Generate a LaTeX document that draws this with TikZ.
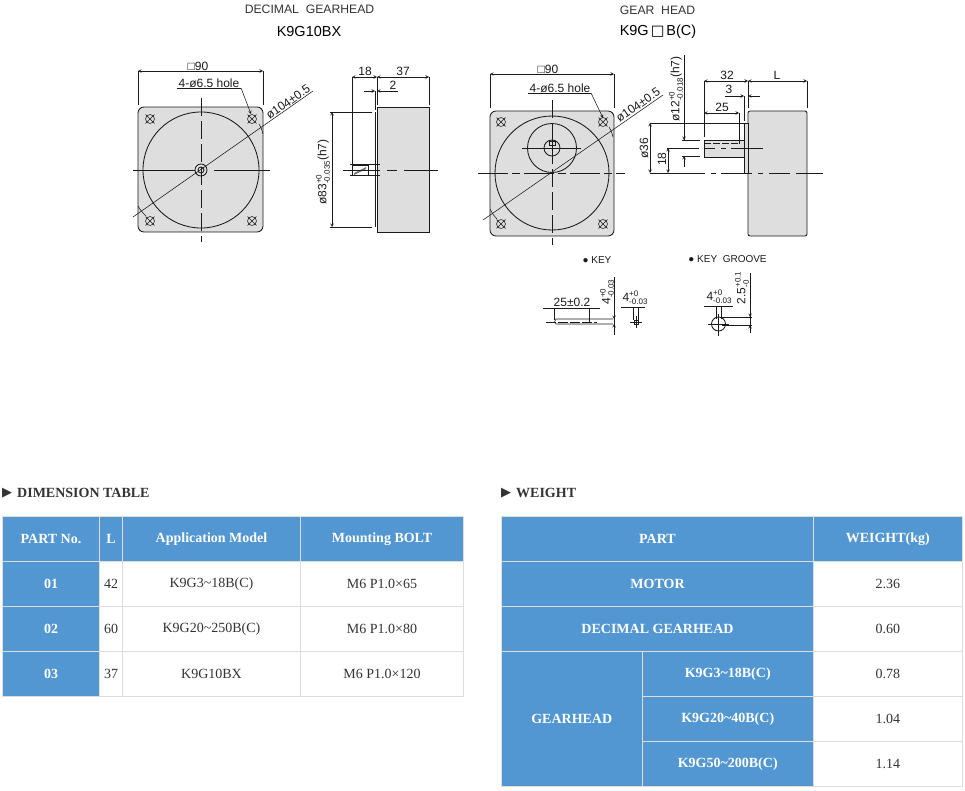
\documentclass[tikz,border=0pt]{standalone}
\usepackage{fontspec}
\setmainfont{Liberation Serif}
\newfontfamily\drawfont{Liberation Sans}
\newfontfamily\arrowfont{DejaVu Sans}
\definecolor{cellblue}{HTML}{5297D2}
\definecolor{gridgray}{HTML}{DDDDDD}
\definecolor{partgray}{HTML}{DEDEDE}
\definecolor{inkgray}{HTML}{1A1A1A}
\definecolor{bodytext}{HTML}{333333}
\newcommand{\tolstack}[2]{\raisebox{-3.4pt}{\shortstack[l]{\fontsize{8}{8}\selectfont #1\\[-0.5pt]\fontsize{8}{8}\selectfont #2}}}
\tikzset{
  outline/.style={draw=inkgray, line width=0.85pt},
  thinline/.style={draw=inkgray, line width=0.55pt},
  dimline/.style={thinline, <->, >=stealth},
  cline/.style={thinline, dash pattern=on 18pt off 5pt},
  dimtext/.style={font=\fontsize{12}{12}\drawfont, text=inkgray, inner sep=0pt},
  smalltext/.style={font=\fontsize{10}{10}\drawfont, text=inkgray, inner sep=0pt},
  titletext/.style={font=\fontsize{12.2}{12}\drawfont, text=bodytext, inner sep=0pt},
  modeltext/.style={font=\fontsize{14.5}{14.5}\drawfont, text=black, inner sep=0pt},
  headtext/.style={font=\fontsize{14}{14}\bfseries, text=bodytext, inner sep=0pt, anchor=west},
  bluecell/.style 2 args={draw=gridgray, line width=0.8pt, fill=cellblue, text=white,
    font=\fontsize{14}{14}\bfseries, inner sep=0pt, minimum width=#1pt, minimum height=#2pt},
  whitecell/.style 2 args={draw=gridgray, line width=0.8pt, fill=white, text=bodytext,
    font=\fontsize{14}{14}\selectfont, inner sep=0pt, minimum width=#1pt, minimum height=#2pt},
  holemark/.pic={
    \draw[thinline] (0,0) circle (4.5);
    \draw[thinline] (-4.5,-4.5) -- (4.5,4.5);
    \draw[thinline] (-4.5,4.5) -- (4.5,-4.5);
  }
}
\begin{document}
\begin{tikzpicture}[x=1pt, y=-1pt]
  \useasboundingbox (0,0) rectangle (965,790);

  % decimal gearhead, titles
  \node[titletext] (dectitle) at (309.5,9) {DECIMAL\ \ GEARHEAD};
  \node[modeltext] (decmodel) at (309,32) {K9G10BX};

  % decimal gearhead, front
  \draw[outline, fill=partgray, rounded corners=6pt] (138,107) rectangle (263,232);
  \draw[outline] (201,170) circle (58);
  \draw[outline] (201,170) circle (6);
  \draw[outline] (201,170) circle (3);
  \pic at (150,119) {holemark};
  \pic at (252,119) {holemark};
  \pic at (150,221) {holemark};
  \pic at (252,221) {holemark};
  \draw[cline] (201,98) -- (201,242);
  \draw[thinline] (133,170) -- (195,170);
  \draw[thinline] (214,170) -- (270,170);
  \draw[thinline] (133,217) -- (313,91);
  \draw[thinline] (259,124) to[bend left=8] (263,134);
  \draw[thinline] (138,206) to[bend right=8] (146,216);
  \draw[dimline] (138,71) -- (263,71);
  \draw[thinline] (138,71) -- (138,105);
  \draw[thinline] (263,71) -- (263,105);
  \node[dimtext] (decsquare) at (198,66) {□90};
  \node[dimtext] (dechole) at (209,83) {4-ø6.5 hole};
  \draw[thinline] (177,88) -- (241,88);
  \draw[thinline, ->, >=stealth] (241,88) -- (251,114);
  \node[dimtext, rotate=35] (decpilot) at (288,102) {ø104±0.5};

  % decimal gearhead, side
  \draw[outline, fill=partgray] (377,107) rectangle (429,232);
  \draw[outline] (375,112) -- (375,227);
  \draw[outline, fill=white] (352,165) rectangle (368,175);
  \fill[inkgray!60] (354,173) -- (366,167) -- (366,169) -- (354,175) -- cycle;
  \draw[thinline] (350,164) -- (380,164);
  \draw[thinline] (350,175) -- (380,175);
  \draw[thinline] (343,170) -- (380,170);
  \draw[thinline] (387,170) -- (397,170);
  \draw[thinline] (404,170) -- (438,170);
  \draw[thinline] (352,77) -- (352,165);
  \draw[thinline] (377,77) -- (377,105);
  \draw[thinline] (375,91) -- (375,110);
  \draw[thinline] (429,77) -- (429,105);
  \draw[dimline] (352,77) -- (377,77);
  \draw[dimline] (377,77) -- (429,77);
  \draw[thinline, ->, >=stealth] (364,91) -- (375,91);
  \draw[thinline, ->, >=stealth] (398,91) -- (377,91);
  \node[dimtext] (decshaft) at (365,71) {18};
  \node[dimtext] (declength) at (403,71) {37};
  \node[dimtext] (decstep) at (393,85) {2};
  \draw[dimline] (332,112) -- (332,227);
  \draw[thinline] (330,112) -- (372,112);
  \draw[thinline] (330,227) -- (372,227);
  \node[dimtext, rotate=90] (decpitch) at (323,172) {ø83\tolstack{+0}{-0.035}(h7)};

  % gear head, titles
  \node[titletext] (geartitle) at (657.5,10) {GEAR\ \ HEAD};
  \node[modeltext] (gearmodel) at (658,32) {K9G\hspace{2pt}{\arrowfont □}\hspace{2pt}B(C)};

  % gear head, front
  \draw[outline, fill=partgray, rounded corners=6pt] (490,111) rectangle (614,236);
  \draw[outline] (552,173) circle (57);
  \draw[outline] (552,148) circle (24.5);
  \draw[outline] (552,148) circle (8);
  \draw[thinline] (549,141) rectangle (555,145);
  \pic at (501,122) {holemark};
  \pic at (603,122) {holemark};
  \pic at (501,224) {holemark};
  \pic at (603,224) {holemark};
  \draw[thinline, dash pattern=on 30pt off 4pt on 8pt off 4pt] (478,173) -- (625,173);
  \draw[cline] (552,100) -- (552,245);
  \draw[thinline] (522,148) -- (581,148);
  \draw[thinline] (552,137) -- (552,160);
  \draw[thinline] (483,220) -- (663,95);
  \draw[thinline] (609,127) to[bend left=8] (613,137);
  \draw[thinline] (490,209) to[bend right=8] (497,219);
  \draw[dimline] (490,74) -- (614,74);
  \draw[thinline] (490,74) -- (490,108);
  \draw[thinline] (614,74) -- (614,108);
  \node[dimtext] (gearsquare) at (548,69) {□90};
  \node[dimtext] (gearhole) at (560,88) {4-ø6.5 hole};
  \draw[thinline] (528,93) -- (591,93);
  \draw[thinline, ->, >=stealth] (591,93) -- (603,118);
  \node[dimtext, rotate=35] (gearpilot) at (638,105) {ø104±0.5};

  % gear head, side
  \draw[outline, fill=partgray, rounded corners=2pt] (748,111) rectangle (807,236);
  \draw[outline, fill=partgray] (744,123) rectangle (748,173);
  \draw[outline, fill=partgray] (704,140) rectangle (744,157);
  \draw[thinline] (650,123) -- (744,123);
  \draw[thinline] (650,173) -- (705,173);
  \draw[thinline] (711,173) -- (716,173);
  \draw[thinline] (721,173) -- (752,173);
  \draw[thinline] (758,173) -- (763,173);
  \draw[thinline] (769,173) -- (790,173);
  \draw[thinline] (796,173) -- (823,173);
  \draw[thinline] (667,148) -- (699,148);
  \draw[thinline] (704,148) -- (715,148);
  \draw[thinline] (721,148) -- (726,148);
  \draw[thinline] (731,148) -- (763,148);
  \draw[thinline, dash pattern=on 7pt off 2pt] (704,143.5) -- (739,143.5);
  \draw[thinline] (739,113) -- (739,143.5);
  \draw[thinline] (704,81) -- (704,137);
  \draw[thinline] (748,81) -- (748,108);
  \draw[thinline] (807,81) -- (807,108);
  \draw[thinline] (744,96) -- (744,121);
  \draw[dimline] (704,81) -- (748,81);
  \draw[dimline] (748,81) -- (807,81);
  \draw[dimline] (704,113) -- (739,113);
  \draw[thinline, ->, >=stealth] (725,96) -- (744,96);
  \draw[thinline, ->, >=stealth] (760,96) -- (748,96);
  \node[dimtext] (gearshaft) at (727,75) {32};
  \node[dimtext] (gearlength) at (777,75) {L};
  \node[dimtext] (gearkeylen) at (722,107) {25};
  \node[dimtext] (gearstep) at (729,89) {3};
  \draw[dimline] (650,123) -- (650,173);
  \draw[dimline] (668,148) -- (668,173);
  \draw[thinline] (684,55) -- (684,140);
  \draw[thinline, <-, >=stealth] (684,140) -- (684,128);
  \draw[thinline, ->, >=stealth] (684,167) -- (684,156);
  \draw[thinline] (682,140) -- (700,140);
  \draw[thinline] (682,156) -- (700,156);
  \node[dimtext, rotate=90] (gearbase) at (644,148) {ø36};
  \node[dimtext, rotate=90] (gearhalf) at (662,159) {18};
  \node[dimtext, rotate=90] (gearbore) at (676,89) {ø12\tolstack{+0}{-0.018}(h7)};

  % key
  \node[smalltext] (keytitle) at (597,260) {● KEY};
  \draw[thinline] (613,319) -- (556,319) to[bend right=70] (556,324) -- (613,324);
  \draw[thinline, dash pattern=on 10pt off 2pt] (546,322) -- (597,322);
  \draw[thinline] (554,308) -- (554,320);
  \draw[thinline] (589,308) -- (589,323);
  \draw[thinline] (543,308) -- (600,308);
  \node[dimtext] (keylen) at (572,302) {25±0.2};
  \draw[thinline] (614,277) -- (614,335);
  \draw[thinline, ->, >=stealth] (614,312) -- (614,319);
  \draw[thinline, ->, >=stealth] (614,331) -- (614,324);
  \node[dimtext, rotate=90] (keyhigh) at (607,292) {4\tolstack{+0}{-0.03}};
  \node[dimtext] (keywide) at (635,298) {4\tolstack{+0}{-0.03}};
  \draw[thinline] (621,307) -- (645,307);
  \draw[thinline] (633.5,307) -- (633.5,320);
  \draw[thinline] (638,307) -- (638,320);
  \draw[thinline] (634,320) rectangle (638,324);
  \draw[thinline] (630,322) -- (642,322);
  \draw[thinline] (636,316) -- (636,328);

  % key groove
  \node[smalltext] (groovetitle) at (727.5,259) {● KEY\ \ GROOVE};
  \draw[outline] (718.5,324) circle (7);
  \draw[thinline] (716,306) -- (716,319);
  \draw[thinline] (721,306) -- (721,319);
  \draw[thinline] (704,306) -- (733,306);
  \draw[thinline] (721,317) -- (752,317);
  \draw[thinline] (722,325) -- (752,325);
  \draw[thinline] (708,324) -- (729,324);
  \draw[thinline] (718.5,314) -- (718.5,336);
  \draw[thinline] (750,273) -- (750,333);
  \draw[thinline, ->, >=stealth] (750,310) -- (750,317);
  \draw[thinline, ->, >=stealth] (750,332) -- (750,325);
  \node[dimtext] (groovewide) at (719,297) {4\tolstack{+0}{-0.03}};
  \node[dimtext, rotate=90] (groovedeep) at (742,288) {2.5\tolstack{+0.1}{-0}};

  % dimension table
  \node[headtext] (dimarrow) at (2,493) {\fontsize{13}{13}\arrowfont ▶};
  \node[headtext] (dimhead) at (17,493) {DIMENSION TABLE};
  \node[bluecell={97}{45}] (partno) at (51,539) {PART No.};
  \node[bluecell={23}{45}] (lhead) at (111,539) {L};
  \node[bluecell={178}{45}] (modelhead) at (211.5,539) {Application Model};
  \node[bluecell={163}{45}] (bolthead) at (382,539) {Mounting BOLT};
  \node[bluecell={97}{45}] (partone) at (51,584) {01};
  \node[whitecell={23}{45}] (lone) at (111,584) {42};
  \node[whitecell={178}{45}] (modelone) at (211.5,584) {K9G3\textasciitilde18B(C)};
  \node[whitecell={163}{45}] (boltone) at (382,584) {M6 P1.0×65};
  \node[bluecell={97}{45}] (parttwo) at (51,629) {02};
  \node[whitecell={23}{45}] (ltwo) at (111,629) {60};
  \node[whitecell={178}{45}] (modeltwo) at (211.5,629) {K9G20\textasciitilde250B(C)};
  \node[whitecell={163}{45}] (bolttwo) at (382,629) {M6 P1.0×80};
  \node[bluecell={97}{45}] (partthree) at (51,674) {03};
  \node[whitecell={23}{45}] (lthree) at (111,674) {37};
  \node[whitecell={178}{45}] (modelthree) at (211.5,674) {K9G10BX};
  \node[whitecell={163}{45}] (boltthree) at (382,674) {M6 P1.0×120};

  % weight table
  \node[headtext] (weightarrow) at (501,493) {\fontsize{13}{13}\arrowfont ▶};
  \node[headtext] (weighthead) at (516,493) {WEIGHT};
  \node[bluecell={312}{45}] (parthead) at (657.5,539) {PART};
  \node[bluecell={148.5}{45}] (kghead) at (887.75,539) {WEIGHT(kg)};
  \node[bluecell={312}{45}] (motor) at (657.5,584) {MOTOR};
  \node[whitecell={148.5}{45}] (motorkg) at (887.75,584) {2.36};
  \node[bluecell={312}{45}] (decimal) at (657.5,629) {DECIMAL GEARHEAD};
  \node[whitecell={148.5}{45}] (decimalkg) at (887.75,629) {0.60};
  \node[bluecell={140.5}{135}] (gearhead) at (571.75,719) {GEARHEAD};
  \node[bluecell={171.5}{45}] (smallgear) at (727.75,674) {K9G3\textasciitilde18B(C)};
  \node[whitecell={148.5}{45}] (smallkg) at (887.75,674) {0.78};
  \node[bluecell={171.5}{45}] (midgear) at (727.75,719) {K9G20\textasciitilde40B(C)};
  \node[whitecell={148.5}{45}] (midkg) at (887.75,719) {1.04};
  \node[bluecell={171.5}{45}] (biggear) at (727.75,764) {K9G50\textasciitilde200B(C)};
  \node[whitecell={148.5}{45}] (bigkg) at (887.75,764) {1.14};
\end{tikzpicture}
\end{document}
